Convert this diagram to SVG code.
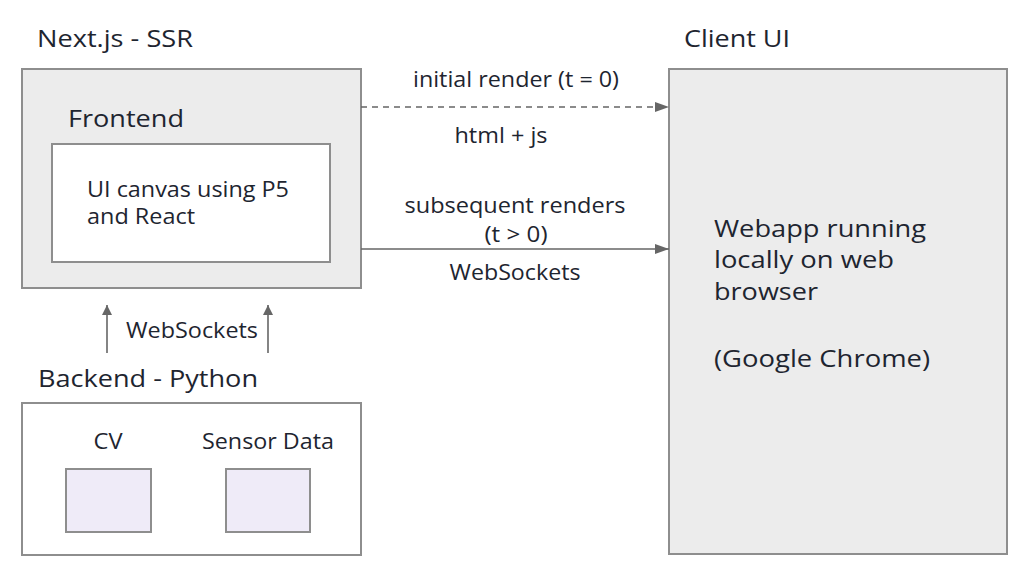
<svg xmlns="http://www.w3.org/2000/svg" width="1024" height="584" viewBox="0 0 1024 584">
<defs>
<style>
text{font-family:"Open Sans","Noto Sans","Liberation Sans",sans-serif;fill:#1e2530}
.t{font-size:24px}
.s{font-size:21px}
.box{fill:#ececec;stroke:#8e8e8e;stroke-width:2}
.wb{fill:#ffffff;stroke:#8e8e8e;stroke-width:2}
.lav{fill:#efebf8;stroke:#8e8e8e;stroke-width:2}
.c{stroke:#666;stroke-width:1.6;fill:none}
</style>
<marker id="ah" viewBox="0 0 10 10" refX="10" refY="5" markerWidth="10" markerHeight="10" markerUnits="userSpaceOnUse" orient="auto">
<path d="M0,0 L10,5 L0,10 z" fill="#666"/>
</marker>
<marker id="ahw" viewBox="0 0 14 10" refX="14" refY="5" markerWidth="14" markerHeight="10" markerUnits="userSpaceOnUse" orient="auto">
<path d="M0,0 L14,5 L0,10 z" fill="#666"/>
</marker>
</defs>
<rect width="1024" height="584" fill="#ffffff"/>
<g id="nextjs">
<text class="t" x="37" y="47" textLength="156" lengthAdjust="spacingAndGlyphs">Next.js - SSR</text>
<rect class="box" x="22" y="69" width="339" height="219"/>
<text class="t" x="68" y="127" textLength="116" lengthAdjust="spacingAndGlyphs">Frontend</text>
</g>
<g id="ui-canvas">
<rect class="wb" x="52" y="144" width="278" height="118"/>
<text class="s" x="87" y="197" textLength="202" lengthAdjust="spacingAndGlyphs">UI canvas using P5</text>
<text class="s" x="87" y="224" textLength="108" lengthAdjust="spacingAndGlyphs">and React</text>
</g>
<g id="client-ui">
<text class="t" x="684" y="47" textLength="106" lengthAdjust="spacingAndGlyphs">Client UI</text>
<rect class="box" x="669" y="69" width="338" height="485"/>
<text class="t" x="714" y="237" textLength="212" lengthAdjust="spacingAndGlyphs">Webapp running</text>
<text class="t" x="714" y="268" textLength="180" lengthAdjust="spacingAndGlyphs">locally on web</text>
<text class="t" x="714" y="300" textLength="104" lengthAdjust="spacingAndGlyphs">browser</text>
<text class="t" x="714" y="367" textLength="216" lengthAdjust="spacingAndGlyphs">(Google Chrome)</text>
</g>
<g id="backend">
<text class="t" x="38" y="387" textLength="220" lengthAdjust="spacingAndGlyphs">Backend - Python</text>
<rect class="wb" x="22" y="403" width="339" height="152"/>
</g>
<g id="cv">
<text class="s" x="108" y="449" text-anchor="middle" textLength="29" lengthAdjust="spacingAndGlyphs">CV</text>
<rect class="lav" x="66" y="469" width="85" height="63"/>
</g>
<g id="sensor-data">
<text class="s" x="268" y="449" text-anchor="middle" textLength="132" lengthAdjust="spacingAndGlyphs">Sensor Data</text>
<rect class="lav" x="226" y="469" width="84" height="63"/>
</g>
<g id="connectors">
<line class="c" x1="361" y1="107" x2="669" y2="107" stroke-dasharray="6,5" marker-end="url(#ahw)"/>
<line class="c" x1="361" y1="249" x2="669" y2="249" marker-end="url(#ahw)"/>
<line class="c" x1="107" y1="353" x2="107" y2="305" marker-end="url(#ah)"/>
<line class="c" x1="268" y1="353" x2="268" y2="305" marker-end="url(#ah)"/>
<text class="s" x="516" y="87" text-anchor="middle" textLength="206" lengthAdjust="spacingAndGlyphs">initial render (t = 0)</text>
<text class="s" x="501" y="143" text-anchor="middle" textLength="93" lengthAdjust="spacingAndGlyphs">html + js</text>
<text class="s" x="515" y="213" text-anchor="middle" textLength="221" lengthAdjust="spacingAndGlyphs">subsequent renders</text>
<text class="s" x="516" y="242" text-anchor="middle" textLength="63" lengthAdjust="spacingAndGlyphs">(t &gt; 0)</text>
<text class="s" x="515" y="280" text-anchor="middle" textLength="131" lengthAdjust="spacingAndGlyphs">WebSockets</text>
<text class="s" x="126" y="338" textLength="132" lengthAdjust="spacingAndGlyphs">WebSockets</text>
</g>
</svg>
